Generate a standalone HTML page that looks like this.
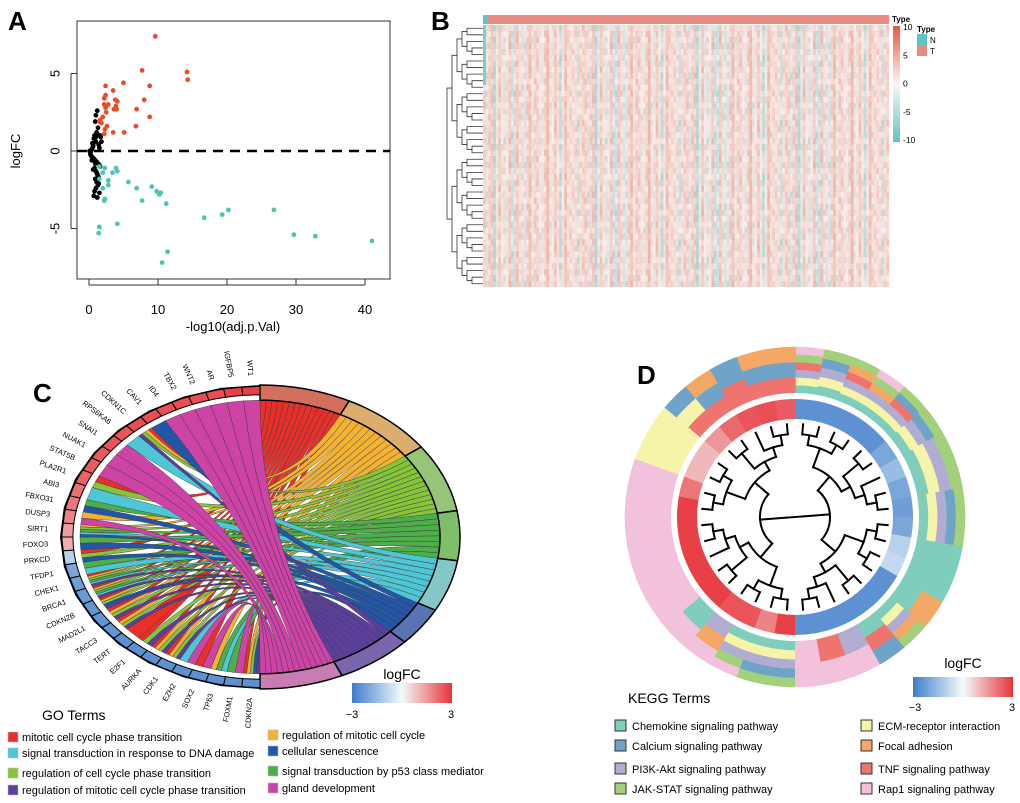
<!DOCTYPE html>
<html><head><meta charset="utf-8">
<style>
html,body{margin:0;padding:0;background:#fff;}
svg{display:block;font-family:"Liberation Sans",Arial,sans-serif;}
</style></head>
<body>
<svg id="fig" width="1020" height="803" viewBox="0 0 1020 803" xmlns="http://www.w3.org/2000/svg">
<defs>
<linearGradient id="lfc" x1="0" x2="1" y1="0" y2="0">
<stop offset="0" stop-color="#3f7cc9"/><stop offset="0.5" stop-color="#f3fbfb"/><stop offset="1" stop-color="#e8333a"/>
</linearGradient>
<linearGradient id="hmbar" x1="0" x2="0" y1="0" y2="1">
<stop offset="0" stop-color="#e8583e"/><stop offset="0.5" stop-color="#fbf7f5"/><stop offset="1" stop-color="#5ec4c0"/>
</linearGradient>
</defs>
<g id="pA"></g>
<g id="pB"></g>
<g id="pC"></g>
<g id="pD"></g>
</svg>
<script>
// ---------- Panel A data ----------
const upX=[9.6,7.7,14.2,14.3,5,8.8,3.5,2.4,2.4,2.2,3.8,4.1,8,3.9,3.6,4,6.9,8.8,6.8,5.1,3.5,2.6,2.3,2.2,1.6,1.8,2,2.5,2.2,1.5,2.8,2.4];
const upY=[7.4,5.2,5.1,4.6,4.4,4.2,3.9,4.2,3.6,3.4,3.3,3.2,3.3,2.9,2.7,2.7,2.7,2.2,1.6,1.2,1.2,1.6,1.4,1.1,2,1.8,2.2,2.5,3,1.9,3,2.8];
const dnX=[1.5,2.3,3.9,4.1,2,3.4,1.5,2.8,5.7,2,2.8,6.9,9.1,9.8,10.1,10.2,10.4,2.2,2.3,7.7,11.2,16.7,19.3,20.2,26.8,1.5,1.4,4.1,29.7,32.8,41,11.4,10.6];
const dnY=[-1,-1.1,-1.1,-1.3,-1.4,-1.4,-1.8,-1.9,-2,-2.4,-2.2,-2.4,-2.3,-2.6,-2.7,-2.8,-2.7,-3.2,-3.1,-3.2,-3.4,-4.3,-4.1,-3.8,-3.8,-4.9,-5.3,-4.7,-5.4,-5.5,-5.8,-6.5,-7.2];
const nsX=[1.2,1.0,0.9,1.3,1.1,0.8,0.7,1.0,1.4,1.5,0.6,0.5,0.4,0.3,0.2,0.1,0.2,0.3,0.5,0.7,0.9,1.1,1.3,1.5,1.6,0.8,0.6,1.0,1.2,1.4,0.9,1.1,1.3,1.0,0.8,0.7,1.2,1.5,1.4,1.1,0.9,0.6,1.0,1.2,0.4,0.5,1.6,1.7,1.8,1.3];
const nsY=[2.6,2.3,1.9,1.5,1.2,1.0,0.8,0.6,0.4,0.2,0.4,0.2,0.1,0.0,-0.1,0.0,-0.2,-0.3,-0.4,-0.5,-0.6,-0.7,-0.8,-0.9,-1.0,-1.1,-1.2,-1.3,-1.5,-1.7,-1.8,-2.0,-2.2,-2.4,-2.6,-2.9,-3.0,-2.7,-2.1,-1.4,-0.8,0.3,0.9,1.1,-0.6,0.5,1.0,0.9,0.6,-1.6];
const aXTicks=[0,10,20,30,40];
const aYTicks=[-5,0,5];
// ---------- Panel B data ----------
const hmColVals=[2,-1,3,0,-3,1,4,-2,2,0,-4,3,1,-1,2,5,-2,0,1,-3,2,3,-1,0,4,-2,1,2,-5,0,3,1,-2,2,0,-1,3,-3,1,2];
const hmRowVals=[-1,0,1,2,0,-2,1,3,0,1,-1,2,0,1,-1,0,2,1,0,3];
const hmTicks=[10,5,0,-5,-10];
// ---------- Panel C data ----------
const goGenes=["WT1","IGFBP5","AR","WNT2","TBX2","ID4","CAV1","CDKN1C","RPS6KA6","SNAI1","NUAK1","STAT5B","PLA2R1","ABI3","FBXO31","DUSP3","SIRT1","FOXO3","PRKCD","TFDP1","CHEK1","BRCA1","CDKN2B","MAD2L1","TACC3","TERT","E2F1","AURKA","CDK1","EZH2","SOX2","TP63","FOXM1","CDKN2A"];
const goGeneFC=[2.8,2.8,2.6,2.6,2.6,2.6,2.6,2.6,2.5,2.5,2.4,2.4,2.3,2.1,2,1.8,1.4,1.2,-1,-2,-2.2,-2.3,-2.4,-2.4,-2.4,-2.5,-2.5,-2.5,-2.5,-2.5,-2.5,-2.5,-2.5,-2.5];
const goTerms=["mitotic cell cycle phase transition","regulation of mitotic cell cycle","regulation of cell cycle phase transition","signal transduction by p53 class mediator","signal transduction in response to DNA damage","cellular senescence","regulation of mitotic cell cycle phase transition","gland development"];
const goArcs=[0,26.5,53.7,80,99,118.8,133.7,155.8,180];
const goLinks=[
[7,12,18,20,21,22,23,24,25,26,27,28,30,33],
[7,15,16,20,21,22,23,24,27,28,31,33],
[7,12,16,18,20,21,22,23,24,26,27,28,33],
[14,16,17,19,20,21,31,32],
[8,13,16,19,20,21,29,31],
[6,14,16,17,18,22,33],
[7,20,21,22,23,24,26,27,28,33],
[0,1,2,3,4,5,9,10,11,15,29,30,32]];
// ---------- Panel D data ----------
const keggTerms=["Chemokine signaling pathway","Calcium signaling pathway","PI3K-Akt signaling pathway","JAK-STAT signaling pathway","ECM-receptor interaction","Focal adhesion","TNF signaling pathway","Rap1 signaling pathway"];
const keggFC=[-2.5,-2.5,-2.5,-2.5,-2.5,-2.0,-1.5,-2.0,-2.2,-2.0,-1.0,-0.8,-2.5,-2.5,-2.5,-2.5,-2.5,-2.5,2.8,1.8,2.5,2.5,2.8,2.8,2.8,2.8,2.8,2.8,2.0,1.0,1.0,1.5,2.2,2.5,2.6,2.4];
const keggMember=[[0,4,2,6,3,7],[0,4,2,1,3],[0,4,2,6,5,3],[0,4,2,5,3,7],[0,4,2,6,1,3],[0,4,2,1,3],[0,4,2,3],[0,4,2,3],[0,4,2,1,3],[0,4,2,1,3],[0],[0],[0,5],[0,4,2,5,3],[0,6,1],[2,7],[6,7],[7],[0,4,2,1,3],[0,4,2,1,3],[0,4,2,3,7],[2,5,7],[0,7],[7],[7],[7],[7],[7],[7],[4],[4],[6,4,1],[6,1,5],[6,1],[6,1,5],[6,1,5]];

const NS="http://www.w3.org/2000/svg";
function mk(tag,attrs,parent){const e=document.createElementNS(NS,tag);for(const k in attrs)e.setAttribute(k,attrs[k]);parent.appendChild(e);return e;}
function txt(s,attrs,parent){const e=mk('text',attrs,parent);e.textContent=s;return e;}
function lfcColor(v){const t=Math.max(-1,Math.min(1,v/3));const w=[243,251,251];const c=t<0?[63,124,201]:[232,51,58];const a=Math.abs(t);return `rgb(${Math.round(w[0]+(c[0]-w[0])*a)},${Math.round(w[1]+(c[1]-w[1])*a)},${Math.round(w[2]+(c[2]-w[2])*a)})`;}

// ================= Panel A =================
(function(){
const g=document.getElementById('pA');
const xS=v=>89+v*6.9, yS=v=>151-v*15.5;
let l=txt('A',{x:8,y:30,'font-size':26,'font-weight':'bold'},g);

let box=mk('rect',{x:77,y:21,width:313,height:258,fill:'none',stroke:'#333','stroke-width':1},g);

aXTicks.forEach(t=>{mk('line',{x1:xS(t),x2:xS(t),y1:279,y2:285,stroke:'#333'},g);
 let e=txt(String(t),{x:xS(t),y:314,'text-anchor':'middle','font-size':13},g);
 });
mk('line',{x1:xS(0),x2:xS(40),y1:285,y2:285,stroke:'#333'},g);
aYTicks.forEach(t=>{mk('line',{x1:71,x2:77,y1:yS(t),y2:yS(t),stroke:'#333'},g);
 let e=txt(String(t),{x:56,y:yS(t),'text-anchor':'middle','font-size':13,transform:`rotate(-90 56 ${yS(t)})`,'dominant-baseline':'middle'},g);
 });
mk('line',{x1:71,x2:71,y1:yS(-5),y2:yS(5),stroke:'#333'},g);
let xt=txt('-log10(adj.p.Val)',{x:233,y:331,'text-anchor':'middle','font-size':13},g);

let yt=txt('logFC',{x:20,y:151,'text-anchor':'middle','font-size':13,transform:'rotate(-90 20 151)'},g);

nsX.forEach((x,i)=>{let c=mk('circle',{cx:xS(x),cy:yS(nsY[i]),r:2.4,fill:'#000'},g);
 });
let dl=mk('line',{x1:77,x2:390,y1:yS(0),y2:yS(0),stroke:'#000','stroke-width':2.6,'stroke-dasharray':'10 7'},g);

upX.forEach((x,i)=>{let c=mk('circle',{cx:xS(x),cy:yS(upY[i]),r:2.4,fill:'#ee4a2a'},g);
 });
dnX.forEach((x,i)=>{let c=mk('circle',{cx:xS(x),cy:yS(dnY[i]),r:2.4,fill:'#4ec3b6'},g);
 });
})();

// ================= Panel B =================
(function(){
const g=document.getElementById('pB');
let l=txt('B',{x:431,y:30,'font-size':26,'font-weight':'bold'},g);

const X0=483,X1=889,Y0=25,Y1=287;
let a1=mk('rect',{x:X0,y:15,width:4,height:9,fill:'#5ec4c8'},g);

let a2=mk('rect',{x:X0+4,y:15,width:X1-X0-4,height:9,fill:'#ea8b82'},g);

let bg=mk('rect',{x:X0,y:Y0,width:X1-X0,height:Y1-Y0,fill:'#f8ecea'},g);

const nC=hmColVals.length*4, cw=(X1-X0)/nC, nR=44, rh=(Y1-Y0)/nR, L=hmRowVals.length;
for(let c=0;c<nC;c++){
 const v=hmColVals[(c*7)%hmColVals.length];
 for(let r=0;r<nR;r++){
  const val=(v+hmRowVals[(r*3+c)%L])*0.9;
  const col=val>=0?`rgba(232,110,90,${Math.min(0.42,val/13)})`:`rgba(80,190,185,${Math.min(0.45,-val/11)})`;
  let cell=mk('rect',{x:X0+c*cw,y:Y0+r*rh,width:cw+0.2,height:rh+0.2,fill:col},g);
  
 }}
let ns=mk('rect',{x:X0,y:Y0,width:3,height:60,fill:'#7fd0cc'},g);

const dg=mk('g',{stroke:'#333','stroke-width':0.8,fill:'none'},g);

function tree(lo,hi,depth){ if(hi-lo<=1){return {y:Y0+(lo+0.5)*(Y1-Y0)/40,x:X0};}
 const mid=Math.floor((lo+hi)/2);const a=tree(lo,mid,depth+1),b=tree(mid,hi,depth+1);
 const x=447+depth*5; mk('path',{d:`M${a.x} ${a.y}H${x}V${b.y}H${b.x}`},dg); return {y:(a.y+b.y)/2,x:x};}
tree(0,40,0);
let cb=mk('rect',{x:893,y:26,width:7,height:116,fill:'url(#hmbar)'},g);

hmTicks.forEach((t,i)=>{let e=txt(String(t),{x:903,y:30+i*28.3,'font-size':8.5},g);
 });
txt('Type',{x:892,y:22,'font-size':8,'font-weight':'bold'},g);
txt('Type',{x:917,y:32,'font-size':8,'font-weight':'bold'},g);
let n=mk('rect',{x:917,y:34,width:10,height:11,fill:'#5ec4c8'},g);
let tt=mk('rect',{x:917,y:45,width:10,height:11,fill:'#ea8b82'},g);
txt('N',{x:930,y:43,'font-size':8},g);txt('T',{x:930,y:54,'font-size':8},g);
})();

// ================= Panel C =================
(function(){
const g=document.getElementById('pC');
const cx=260,cy=537,RX=200,RY=152;
const P=(a,s)=>[cx+s*RX*Math.sin(a*Math.PI/180),cy-s*RY*Math.cos(a*Math.PI/180)];
const termRing=['#d36f5d','#dcae6d','#98c479','#80bf6a','#84c7c8','#5a74b2','#7966ab','#c77db3'];
const termFill=['#e8302a','#f4b233','#86c53a','#4daf4a','#4fc6d6','#2257a8','#5b3f9c','#cd44a6'];
let l=txt('C',{x:33,y:402,'font-size':26,'font-weight':'bold'},g);

const arcPath=(a0,a1,s0,s1)=>{let d='';const N=16;for(let i=0;i<=N;i++){const p=P(a0+(a1-a0)*i/N,s1);d+=(i?'L':'M')+p[0].toFixed(1)+' '+p[1].toFixed(1);}
 for(let i=N;i>=0;i--){const p=P(a0+(a1-a0)*i/N,s0);d+='L'+p[0].toFixed(1)+' '+p[1].toFixed(1);}return d+'Z';};
const nG=goGenes.length, gStep=180/nG;
const geneLinks=goGenes.map(()=>[]);
goLinks.forEach((arr,t)=>arr.forEach(gi=>geneLinks[gi].push(t)));
const geneUsed=goGenes.map(()=>0);
const cg=mk('g',{},g);
goLinks.forEach((arr,t)=>{
 const a0=goArcs[t],a1=goArcs[t+1],w=(a1-a0)/arr.length;
 arr.forEach((gi,k)=>{
  const ta0=a0+k*w, ta1=ta0+w;
  const ga=360-gi*gStep, nl=geneLinks[gi].length, gw=gStep/nl, u=geneUsed[gi]++;
  const gb0=ga-u*gw, gb1=gb0-gw;
  const p1=P(ta0,0.9),p2=P(ta1,0.9),q1=P(gb1,0.9),q2=P(gb0,0.9);
  const d=`M${p1[0]} ${p1[1]}L${p2[0]} ${p2[1]}Q${cx} ${cy} ${q1[0]} ${q1[1]}L${q2[0]} ${q2[1]}Q${cx} ${cy} ${p1[0]} ${p1[1]}Z`;
  let r=mk('path',{d:d,fill:termFill[t],stroke:'#333','stroke-width':0.4},cg);
  
 });});
for(let t=0;t<8;t++){let s=mk('path',{d:arcPath(goArcs[t],goArcs[t+1],0.9,1.0),fill:termRing[t],stroke:'#000','stroke-width':1.5},g);
 }
goGenes.forEach((name,i)=>{
 const a0=360-i*gStep,a1=a0-gStep;
 let s=mk('path',{d:arcPath(a1,a0,0.935,0.99),fill:lfcColor(goGeneFC[i]),stroke:'#000','stroke-width':1},g);
 
 const am=(a0+a1)/2, p=P(am,1.06);
 const ang=Math.atan2(p[1]-cy,p[0]-cx)*180/Math.PI+180;
 let e=txt(name,{x:p[0],y:p[1],'font-size':7.5,'text-anchor':'end','dominant-baseline':'middle',transform:`rotate(${ang} ${p[0]} ${p[1]})`},g);
 
});
mk('path',{d:arcPath(180,360,0.99,1.0),fill:'#000'},g);
let lt=txt('logFC',{x:402,y:679,'text-anchor':'middle','font-size':14},g);
let lb=mk('rect',{x:352,y:683,width:100,height:20,fill:'url(#lfc)'},g);
txt('\u22123',{x:352,y:718,'text-anchor':'middle','font-size':11},g);txt('3',{x:451,y:718,'text-anchor':'middle','font-size':11},g);
let gt=txt('GO Terms',{x:42,y:720,'font-size':14},g);
const order=[0,1,4,5,2,3,6,7];const pos=[[8,741],[268,739],[8,757],[268,755],[8,777],[268,775],[8,794],[268,792]];
order.forEach((t,k)=>{const [x,y]=pos[k];
 let b=mk('rect',{x:x,y:y-9,width:10,height:10,fill:termFill[t],stroke:'#bbb','stroke-width':0.6},g);
 let e=txt(goTerms[t],{x:x+14,y:y,'font-size':11},g);});
})();

// ================= Panel D =================
(function(){
const g=document.getElementById('pD');
const cx=795,cy=517;
const kCol=['#7fcdbb','#6fa3c8','#b1add2','#a3d07a','#f6f4a8','#f4a866','#ef7470','#f2c1dc'];
let l=txt('D',{x:637,y:384,'font-size':26,'font-weight':'bold'},g);

const P=(a,r)=>[cx+r*Math.sin(a*Math.PI/180),cy-r*Math.cos(a*Math.PI/180)];
const ann=(a0,a1,r0,r1)=>{const p1=P(a0,r1),p2=P(a1,r1),p3=P(a1,r0),p4=P(a0,r0);
 return `M${p1[0]} ${p1[1]}A${r1} ${r1} 0 0 1 ${p2[0]} ${p2[1]}L${p3[0]} ${p3[1]}A${r0} ${r0} 0 0 0 ${p4[0]} ${p4[1]}Z`;};
const n=keggFC.length, st=360/n;
keggFC.forEach((v,i)=>{
 let s=mk('path',{d:ann(i*st,(i+1)*st+0.3,98,118),fill:lfcColor(v)},g);
 
 const m=keggMember[i], th=(170-124)/m.length;
 m.forEach((t,k)=>{let r=mk('path',{d:ann(i*st,(i+1)*st+0.3,124+k*th,124+(k+1)*th+0.3),fill:kCol[t]},g);
  });
});
const dg=mk('g',{stroke:'#000','stroke-width':2,fill:'none','stroke-linecap':'square'},g);

function node(lo,hi,depth){
 if(hi-lo===1){return {a:(lo+0.5)*st,r:93};}
 const mid=Math.floor((lo+hi)/2);const A=node(lo,mid,depth+1),B=node(mid,hi,depth+1);
 const r=Math.max(8,Math.min(A.r,B.r)-10-(depth===0?40:0)-(depth<2?8:0));
 [A,B].forEach(c=>{const p=P(c.a,c.r),q=P(c.a,r);mk('path',{d:`M${p[0]} ${p[1]}L${q[0]} ${q[1]}`},dg);});
 const p1=P(A.a,r),p2=P(B.a,r);
 if(depth>0) mk('path',{d:`M${p1[0]} ${p1[1]}A${r} ${r} 0 ${B.a-A.a>180?1:0} 1 ${p2[0]} ${p2[1]}`},dg);
 else mk('path',{d:`M${p1[0]} ${p1[1]}L${p2[0]} ${p2[1]}`},dg);
 return {a:(A.a+B.a)/2,r:r};}
node(0,n,0);
let lt=txt('logFC',{x:963,y:668,'text-anchor':'middle','font-size':14},g);
let lb=mk('rect',{x:913,y:677,width:100,height:20,fill:'url(#lfc)'},g);
txt('\u22123',{x:915,y:711,'text-anchor':'middle','font-size':11},g);txt('3',{x:1012,y:711,'text-anchor':'middle','font-size':11},g);
let kt=txt('KEGG Terms',{x:628,y:703,'font-size':14},g);
const order=[0,4,1,5,2,6,3,7];const pos=[[614,730],[860,730],[614,750],[860,750],[614,773],[860,773],[614,793],[860,793]];
order.forEach((t,k)=>{const [x,y]=pos[k];
 let b=mk('rect',{x:x+1,y:y-10,width:11,height:11,fill:kCol[t],stroke:'#333','stroke-width':1},g);
 let e=txt(keggTerms[t],{x:x+18,y:y,'font-size':11},g);});
})();
</script>
</body></html>
